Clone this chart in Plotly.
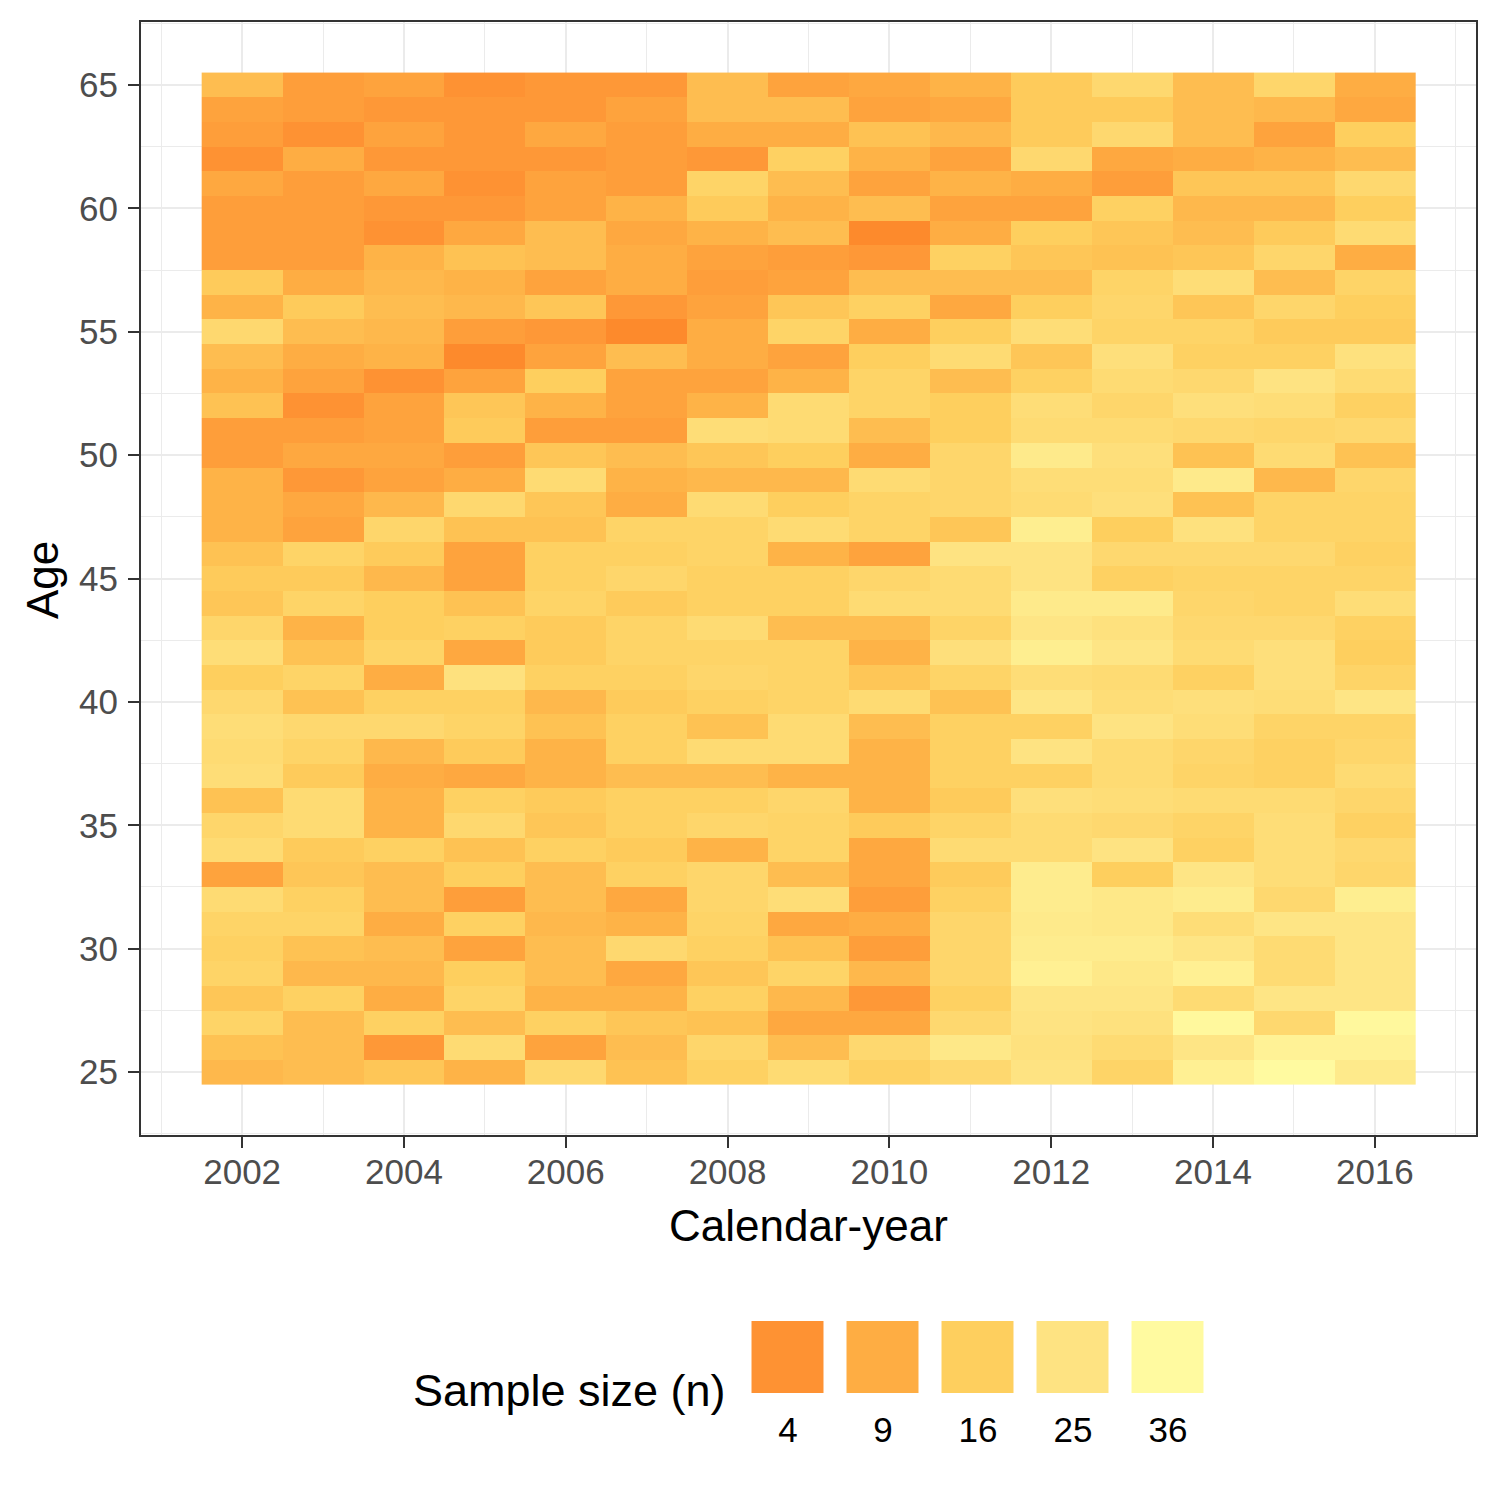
import numpy as np
import plotly.graph_objects as go

# heatmap of sample size by calendar-year and age
years = list(range(2002, 2017))
ages = list(range(65, 24, -1))  # rows below are listed from age 65 down to 25

n_age_65_55 = [
    [12, 6, 7, 4, 5, 5, 12, 7, 8, 10, 15, 20, 12, 19, 9],
    [7, 6, 5, 5, 5, 7, 12, 12, 7, 8, 15, 15, 12, 11, 8],
    [6, 4, 7, 5, 8, 6, 9, 9, 13, 11, 15, 20, 12, 7, 16],
    [4, 9, 5, 5, 5, 6, 5, 17, 10, 7, 20, 8, 9, 10, 12],
    [8, 6, 8, 4, 7, 6, 18, 12, 7, 10, 9, 6, 14, 14, 20],
    [6, 6, 5, 5, 7, 10, 15, 10, 12, 7, 7, 17, 11, 11, 16],
    [6, 6, 4, 8, 12, 8, 10, 12, 3, 9, 16, 14, 12, 15, 21],
    [6, 6, 10, 13, 12, 9, 7, 6, 5, 17, 14, 13, 14, 19, 9],
    [15, 9, 11, 10, 7, 9, 6, 7, 12, 12, 12, 18, 22, 12, 18],
    [10, 15, 12, 11, 14, 5, 7, 14, 17, 8, 16, 19, 14, 19, 16],
    [20, 12, 11, 6, 5, 3, 9, 18, 9, 16, 22, 18, 18, 15, 15],
]
n_age_54_45 = [
    [12, 9, 10, 3, 7, 12, 9, 7, 16, 21, 14, 23, 17, 17, 24],
    [10, 7, 4, 7, 16, 7, 7, 10, 18, 12, 17, 21, 20, 25, 21],
    [13, 4, 7, 14, 10, 7, 10, 21, 18, 16, 22, 19, 23, 22, 17],
    [6, 6, 7, 15, 6, 6, 22, 21, 12, 16, 21, 21, 20, 19, 20],
    [6, 8, 8, 6, 14, 12, 14, 16, 9, 19, 28, 23, 13, 21, 13],
    [10, 5, 7, 9, 21, 10, 11, 11, 21, 19, 22, 22, 28, 11, 19],
    [10, 8, 11, 20, 14, 9, 21, 16, 18, 19, 21, 23, 13, 18, 18],
    [10, 7, 19, 13, 13, 18, 18, 21, 18, 14, 30, 16, 24, 18, 18],
    [13, 18, 15, 7, 17, 17, 18, 10, 7, 25, 25, 20, 20, 20, 17],
    [15, 15, 11, 7, 17, 19, 17, 17, 19, 21, 25, 17, 18, 18, 18],
]
n_age_44_35 = [
    [14, 18, 16, 13, 18, 15, 17, 17, 21, 21, 28, 28, 19, 18, 22],
    [19, 10, 16, 17, 15, 18, 21, 12, 12, 18, 26, 24, 20, 20, 17],
    [22, 13, 18, 8, 15, 18, 18, 18, 10, 23, 30, 26, 21, 23, 16],
    [16, 18, 9, 24, 17, 17, 19, 18, 14, 18, 22, 21, 17, 23, 18],
    [20, 13, 17, 17, 11, 15, 17, 18, 21, 13, 26, 22, 23, 22, 26],
    [22, 20, 20, 18, 13, 17, 13, 21, 12, 17, 17, 25, 22, 18, 18],
    [21, 18, 11, 15, 10, 17, 21, 21, 10, 17, 25, 21, 19, 17, 19],
    [22, 15, 9, 8, 10, 12, 12, 10, 10, 17, 17, 21, 18, 17, 21],
    [13, 21, 10, 17, 15, 17, 17, 19, 10, 15, 23, 22, 21, 21, 19],
    [19, 21, 10, 20, 14, 17, 19, 18, 15, 18, 21, 20, 18, 22, 17],
]
n_age_34_25 = [
    [21, 15, 17, 13, 17, 15, 10, 18, 8, 21, 21, 25, 17, 22, 20],
    [7, 14, 12, 16, 12, 17, 19, 12, 8, 15, 29, 16, 26, 22, 19],
    [21, 17, 12, 6, 12, 8, 19, 22, 6, 17, 29, 27, 29, 20, 30],
    [18, 18, 9, 17, 11, 10, 18, 8, 9, 19, 28, 27, 22, 26, 26],
    [17, 13, 12, 7, 12, 20, 17, 13, 6, 19, 29, 29, 26, 21, 26],
    [18, 11, 11, 16, 12, 8, 14, 18, 11, 19, 31, 27, 31, 21, 26],
    [14, 17, 9, 18, 10, 10, 17, 11, 5, 17, 26, 26, 21, 26, 26],
    [18, 12, 17, 12, 17, 14, 13, 8, 8, 20, 25, 24, 35, 20, 35],
    [13, 12, 5, 21, 7, 12, 19, 12, 20, 27, 24, 21, 26, 32, 32],
    [11, 12, 14, 10, 20, 13, 17, 21, 17, 20, 25, 18, 31, 38, 28],
]

legend_breaks = [4, 9, 16, 25, 36]
legend_colors = ["#FE9233", "#FEAD43", "#FECF5E", "#FEE382", "#FFFAA0"]

n = np.array(n_age_65_55 + n_age_54_45 + n_age_44_35 + n_age_34_25, dtype=float)

# sqrt colour scale, like the legend spacing
zmin, zmax = np.sqrt(3), np.sqrt(36)
pos = [(np.sqrt(b) - zmin) / (zmax - zmin) for b in legend_breaks]
colorscale = [[0.0, "#FD8A2C"]] + [[p, c] for p, c in zip(pos, legend_colors)]

# page has an 8px body margin, so the figure is 1492 and positions are shifted
W = 1492
PAD = 8


def fx(px):
    return (px - PAD) / W


def fy(py):
    return 1 - (py - PAD) / W


FONT = "Liberation Sans, Arial, sans-serif"

fig = go.Figure()
fig.add_trace(go.Heatmap(
    x=years, y=ages, z=np.sqrt(n), customdata=n,
    colorscale=colorscale, zmin=zmin, zmax=zmax, showscale=False,
    hovertemplate="Year %{x}<br>Age %{y}<br>n = %{customdata}<extra></extra>",
))
fig.add_trace(go.Heatmap(
    x=[str(b) for b in legend_breaks], y=["n"], z=[np.sqrt(legend_breaks).tolist()],
    colorscale=colorscale, zmin=zmin, zmax=zmax, showscale=False, xgap=23,
    xaxis="x2", yaxis="y2", hoverinfo="skip",
))

grid = "#EBEBEB"
fig.update_layout(
    width=W, height=W,
    margin=dict(l=0, r=0, t=0, b=0),
    paper_bgcolor="white", plot_bgcolor="white",
    font=dict(family=FONT, color="black"),
    xaxis=dict(
        domain=[fx(141), fx(1476)], range=[2000.75, 2017.25],
        tick0=2002, dtick=2, ticks="outside", ticklen=11, tickwidth=2, tickcolor="#333333",
        tickfont=dict(size=35, color="#4D4D4D"), ticklabelstandoff=-6,
        showgrid=True, gridcolor=grid, gridwidth=2.4,
        minor=dict(tick0=2001, dtick=2, showgrid=True, gridcolor=grid, gridwidth=1.2),
        showline=True, linecolor="#333333", linewidth=2, mirror=True,
        zeroline=False, anchor="y",
    ),
    yaxis=dict(
        domain=[fy(1135), fy(22)], range=[22.45, 67.55],
        tick0=25, dtick=5, ticks="outside", ticklen=11, tickwidth=2, tickcolor="#333333",
        tickfont=dict(size=35, color="#4D4D4D"), ticklabelstandoff=3,
        showgrid=True, gridcolor=grid, gridwidth=2.4,
        minor=dict(tick0=22.5, dtick=5, showgrid=True, gridcolor=grid, gridwidth=1.2),
        showline=True, linecolor="#333333", linewidth=2, mirror=True,
        zeroline=False, anchor="x",
    ),
    xaxis2=dict(
        domain=[fx(740.5), fx(1215.5)], type="category", anchor="y2",
        showgrid=False, zeroline=False, showline=False, ticks="",
        tickfont=dict(size=35, color="black"), ticklabelstandoff=13,
    ),
    yaxis2=dict(
        domain=[fy(1393), fy(1321)], anchor="x2",
        showgrid=False, zeroline=False, showline=False, showticklabels=False,
    ),
    annotations=[
        dict(text="Calendar-year", x=fx(808), y=fy(1225), xref="paper", yref="paper",
             xanchor="center", yanchor="middle", showarrow=False,
             font=dict(size=44, color="black")),
        dict(text="Age", x=fx(42), y=fy(580), xref="paper", yref="paper",
             xanchor="center", yanchor="middle", showarrow=False, textangle=-90,
             font=dict(size=44, color="black")),
        dict(text="Sample size (n)", x=fx(728), y=fy(1390), xref="paper", yref="paper",
             xanchor="right", yanchor="middle", showarrow=False,
             font=dict(size=45, color="black")),
    ],
)

fig.write_html("out.html")
